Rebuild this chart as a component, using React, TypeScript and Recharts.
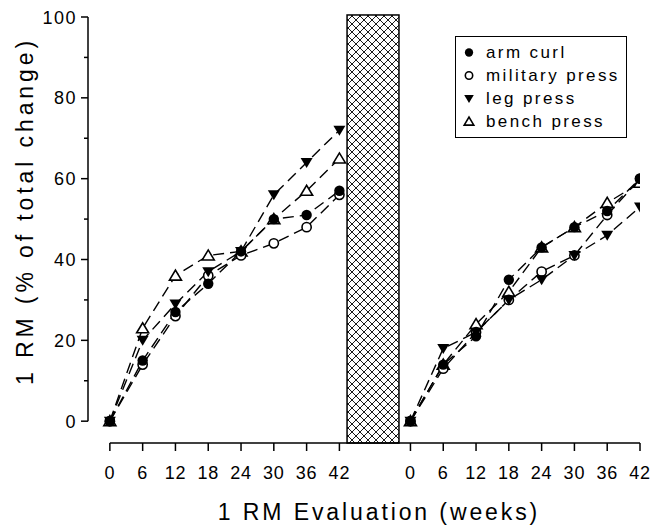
import {
  Legend,
  Line,
  LineChart,
  ReferenceArea,
  ReferenceLine,
  XAxis,
  YAxis,
} from "recharts";

// weeks of 1RM testing, same schedule in both training phases
const weeks = [0, 6, 12, 18, 24, 30, 36, 42];

// phase 1 (left panel)
const armCurl1 = [0, 15, 27, 34, 42, 50, 51, 57];
const militaryPress1 = [0, 14, 26, 36, 41, 44, 48, 56];
const legPress1 = [0, 20, 29, 37, 42, 56, 64, 72];
const benchPress1 = [0, 23, 36, 41, 42, 50, 57, 65];

// phase 2 (right panel)
const armCurl2 = [0, 14, 21, 35, 43, 48, 52, 60];
const militaryPress2 = [0, 13, 22, 30, 37, 41, 51, 60];
const legPress2 = [0, 18, 22, 30, 35, 41, 46, 53];
const benchPress2 = [0, 14, 24, 32, 43, 48, 54, 59];

const yTicks = [0, 10, 20, 30, 40, 50, 60, 70, 80, 90, 100];

// the second panel shares one numeric axis, shifted right by this many weeks
const PHASE2_OFFSET = 55;
const Y_MIN = -5.4;
const FONT = "'Liberation Sans', Arial, Helvetica, sans-serif";

// legend order
const SERIES = [
  { key: "armCurl", name: "arm curl" },
  { key: "militaryPress", name: "military press" },
  { key: "legPress", name: "leg press" },
  { key: "benchPress", name: "bench press" },
];
// paint order: filled circles end up on top, like the original
const DRAW_ORDER = ["benchPress", "militaryPress", "legPress", "armCurl"];

const data = [
  ...weeks.map((w, i) => ({
    x: w,
    armCurl: armCurl1[i],
    militaryPress: militaryPress1[i],
    legPress: legPress1[i],
    benchPress: benchPress1[i],
  })),
  // empty row so the two phases are not joined
  { x: 48.5, armCurl: null, militaryPress: null, legPress: null, benchPress: null },
  ...weeks.map((w, i) => ({
    x: w + PHASE2_OFFSET,
    armCurl: armCurl2[i],
    militaryPress: militaryPress2[i],
    legPress: legPress2[i],
    benchPress: benchPress2[i],
  })),
];

const xTicks = [...weeks, ...weeks.map((w) => w + PHASE2_OFFSET)];

function Marker({ kind, cx, cy, s = 1 }: { kind: string; cx: number; cy: number; s?: number }) {
  if (kind === "armCurl") return <circle cx={cx} cy={cy} r={5.2 * s} fill="#000" />;
  if (kind === "militaryPress")
    return <circle cx={cx} cy={cy} r={4.6 * s} fill="#fff" stroke="#000" strokeWidth={1.6} />;
  if (kind === "legPress") {
    const pts = `${cx - 6 * s},${cy - 4.5 * s} ${cx + 6 * s},${cy - 4.5 * s} ${cx},${cy + 5.5 * s}`;
    return <polygon points={pts} fill="#000" />;
  }
  const pts = `${cx - 6 * s},${cy + 4.5 * s} ${cx + 6 * s},${cy + 4.5 * s} ${cx},${cy - 5.5 * s}`;
  return <polygon points={pts} fill="#fff" stroke="#000" strokeWidth={1.6} strokeLinejoin="miter" />;
}

function dotFor(kind: string) {
  return (props: any) => {
    const { cx, cy, index, value } = props;
    if (value == null || cx == null || cy == null) return <g key={`${kind}-${index}`} />;
    return (
      <g key={`${kind}-${index}`}>
        <Marker kind={kind} cx={cx} cy={cy} />
      </g>
    );
  };
}

function XTick({ x, y, payload }: any) {
  const v = payload.value;
  const label = v >= PHASE2_OFFSET ? v - PHASE2_OFFSET : v;
  return (
    <g>
      <line x1={x} y1={y} x2={x} y2={y + 8} stroke="#000" strokeWidth={1.5} />
      <text x={x} y={y + 36} textAnchor="middle" fontSize={18} fontFamily={FONT} letterSpacing={0.8} fill="#000">
        {label}
      </text>
    </g>
  );
}

function YTick({ x, y, payload }: any) {
  const v = payload.value;
  const major = v % 20 === 0;
  return (
    <g>
      <line x1={x - (major ? 7 : 4)} y1={y} x2={x} y2={y} stroke="#000" strokeWidth={1.5} />
      {major && (
        <text x={x - 11} y={y + 6.5} textAnchor="end" fontSize={18} fontFamily={FONT} letterSpacing={1.5} fill="#000">
          {v}
        </text>
      )}
    </g>
  );
}

function HatchedBar(props: any) {
  const { x, y, width, height } = props;
  return (
    <g>
      <defs>
        <pattern id="crosshatch" width={8} height={8} patternUnits="userSpaceOnUse">
          <path d="M0,0 L8,8 M8,0 L0,8" stroke="#000" strokeWidth={0.9} />
        </pattern>
      </defs>
      <rect x={x} y={y} width={width} height={height} fill="#fff" />
      <rect x={x} y={y} width={width} height={height} fill="url(#crosshatch)" stroke="#000" strokeWidth={1.5} />
    </g>
  );
}

function LegendBox({ payload }: any) {
  const entries = (payload ?? []) as any[];
  const items = SERIES.map((s) => entries.find((e) => e.dataKey === s.key)).filter(Boolean);
  return (
    <div
      style={{
        border: "1.3px solid #000",
        background: "#fff",
        padding: "4px 0 0 0",
        boxSizing: "border-box",
        width: 172,
        height: 102,
        fontFamily: FONT,
      }}
    >
      {items.map((item) => (
        <div key={item.dataKey} style={{ display: "flex", alignItems: "center", height: 23 }}>
          <svg width={30} height={23} style={{ flex: "none" }}>
            <Marker kind={item.dataKey} cx={13} cy={11.5} s={0.8} />
          </svg>
          <span style={{ fontSize: 17, letterSpacing: 2.4, color: "#000", lineHeight: "23px" }}>{item.value}</span>
        </div>
      ))}
    </div>
  );
}

export default function App() {
  return (
    <div style={{ position: "absolute", left: 0, top: 0, background: "#fff" }}>
      <LineChart width={652} height={528} data={data} margin={{ top: 17, right: 12, left: 0, bottom: 0 }}>
        <XAxis
          type="number"
          dataKey="x"
          domain={[-4, 97]}
          ticks={xTicks}
          interval={0}
          allowDataOverflow
          axisLine={false}
          tickLine={false}
          tickSize={0}
          tickMargin={0}
          tick={<XTick />}
          height={85}
          label={{
            content: () => (
              <text x={379} y={520} textAnchor="middle" fontSize={23} fontFamily={FONT} letterSpacing={2.9} fill="#000">
                1 RM Evaluation (weeks)
              </text>
            ),
          }}
        />
        <YAxis
          type="number"
          domain={[Y_MIN, 100]}
          ticks={yTicks}
          interval={0}
          allowDataOverflow
          axisLine={false}
          tickLine={false}
          tickSize={0}
          tickMargin={0}
          tick={<YTick />}
          width={88}
          label={{
            content: () => (
              <text
                x={0}
                y={0}
                transform="translate(33,211) rotate(-90)"
                textAnchor="middle"
                fontSize={23}
                fontFamily={FONT}
                letterSpacing={3.9}
                fill="#000"
              >
                1 RM (% of total change)
              </text>
            ),
          }}
        />
        <ReferenceLine
          segment={[{ x: -4, y: 0 }, { x: -4, y: 100 }]}
          stroke="#000"
          strokeWidth={1.5}
          ifOverflow="visible"
        />
        <ReferenceLine
          segment={[{ x: 0, y: Y_MIN }, { x: 97, y: Y_MIN }]}
          stroke="#000"
          strokeWidth={1.5}
          ifOverflow="visible"
        />
        <ReferenceArea x1={43.4} x2={52.9} y1={Y_MIN} y2={100.5} ifOverflow="visible" shape={<HatchedBar />} />
        {DRAW_ORDER.map((key) => (
          <Line
            key={key}
            dataKey={key}
            name={SERIES.find((s) => s.key === key)!.name}
            stroke="#000"
            strokeWidth={1.4}
            strokeDasharray="11 6"
            dot={dotFor(key)}
            activeDot={false}
            connectNulls={false}
            isAnimationActive={false}
          />
        ))}
        <Legend
          layout="vertical"
          align="center"
          verticalAlign="middle"
          content={<LegendBox />}
          wrapperStyle={{ position: "absolute", left: 455, top: 36, width: 172, height: 102 }}
        />
      </LineChart>
    </div>
  );
}
